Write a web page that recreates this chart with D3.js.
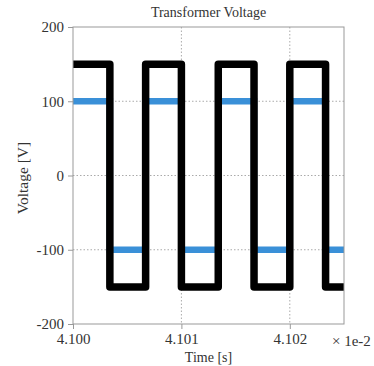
<!DOCTYPE html>
<html>
<head>
<meta charset="utf-8">
<script src="https://cdn.jsdelivr.net/npm/d3@7"></script>
<style>
  body { margin: 0; background: #fff; }
  svg { display: block; font-family: "Liberation Serif", "Times New Roman", serif; }
</style>
</head>
<body>
<div id="chart"></div>
<script>
// time axis in units of 1e-2 s
const timeDomain = [4.100, 4.1025];
const timeTicks = [4.100, 4.101, 4.102];
const voltTicks = [-200, -100, 0, 100, 200];
// switching instants
const edgeTimes = [4.10034, 4.10067, 4.10100, 4.10134, 4.10167, 4.10200, 4.10233];
const primaryLevels = [150, -150, 150, -150, 150, -150, 150, -150];
const secondaryLevels = [100, -100, 100, -100, 100, -100, 100, -100];

const width = 374, height = 366;
const margin = { top: 27, right: 30, bottom: 42, left: 73 };
const iw = width - margin.left - margin.right;
const ih = height - margin.top - margin.bottom;

const svg = d3.select("#chart").append("svg")
    .attr("width", width)
    .attr("height", height);

const x = d3.scaleLinear().domain(timeDomain).range([0, iw]);
const y = d3.scaleLinear().domain([-200, 200]).range([ih, 0]);

const g = svg.append("g").attr("transform", `translate(${margin.left},${margin.top})`);

svg.append("defs").append("clipPath").attr("id", "plotclip")
  .append("rect").attr("width", iw).attr("height", ih);

// grid
g.append("g").selectAll("line")
  .data(voltTicks.filter(v => v > -200 && v < 200))
  .join("line")
    .attr("x1", 0).attr("x2", iw)
    .attr("y1", d => y(d)).attr("y2", d => y(d))
    .attr("stroke", "#aaa").attr("stroke-width", 1)
    .attr("stroke-dasharray", "1.5,2");
g.append("g").selectAll("line")
  .data(timeTicks.filter(t => t > timeDomain[0]))
  .join("line")
    .attr("y1", 0).attr("y2", ih)
    .attr("x1", d => x(d)).attr("x2", d => x(d))
    .attr("stroke", "#aaa").attr("stroke-width", 1)
    .attr("stroke-dasharray", "1.5,2");

function steps(levels) {
  const pts = [[timeDomain[0], levels[0]]];
  edgeTimes.forEach((t, i) => pts.push([t, levels[i + 1]]));
  pts.push([timeDomain[1] + 0.0002, levels[levels.length - 1]]);
  return pts;
}

const line = d3.line()
  .x(d => x(d[0]))
  .y(d => y(d[1]))
  .curve(d3.curveStepAfter);

const plot = g.append("g").attr("clip-path", "url(#plotclip)");

plot.append("path")
  .attr("d", line(steps(secondaryLevels)))
  .attr("fill", "none")
  .attr("stroke", "#3a90d8")
  .attr("stroke-width", 6.5);

plot.append("path")
  .attr("d", line(steps(primaryLevels)))
  .attr("fill", "none")
  .attr("stroke", "#000")
  .attr("stroke-width", 7.5)
  .attr("stroke-linejoin", "round");

// frame
g.append("rect")
  .attr("width", iw).attr("height", ih)
  .attr("fill", "none")
  .attr("stroke", "#999").attr("stroke-width", 1);

// axes
const yAxis = g.append("g")
  .call(d3.axisLeft(y).tickValues(voltTicks).tickSize(5).tickPadding(4));
const xAxis = g.append("g")
  .attr("transform", `translate(0,${ih})`)
  .call(d3.axisBottom(x).tickValues(timeTicks).tickSize(5).tickPadding(4)
    .tickFormat(d3.format(".3f")));

[yAxis, xAxis].forEach(a => {
  a.attr("font-family", null);
  a.select(".domain").remove();
  a.selectAll(".tick line").attr("stroke", "#999");
  a.selectAll(".tick text")
    .attr("fill", "#333")
    .style("font-family", "'Liberation Serif', serif")
    .style("font-size", "15px");
});
yAxis.selectAll(".tick text").text(d => d < 0 ? "-" + Math.abs(d) : d);

svg.append("text")
  .attr("x", 332).attr("y", margin.top + ih + 22)
  .attr("fill", "#333")
  .style("font-size", "15px")
  .text("× 1e-2");

svg.append("text")
  .attr("x", margin.left + iw / 2).attr("y", 17)
  .attr("text-anchor", "middle")
  .attr("fill", "#333")
  .style("font-size", "14px")
  .text("Transformer Voltage");

svg.append("text")
  .attr("x", margin.left + iw / 2).attr("y", 362)
  .attr("text-anchor", "middle")
  .attr("fill", "#333")
  .style("font-size", "14px")
  .text("Time [s]");

svg.append("text")
  .attr("transform", `translate(28,178) rotate(-90)`)
  .attr("text-anchor", "middle")
  .attr("fill", "#333")
  .style("font-size", "15.5px")
  .text("Voltage [V]");
</script>
</body>
</html>
